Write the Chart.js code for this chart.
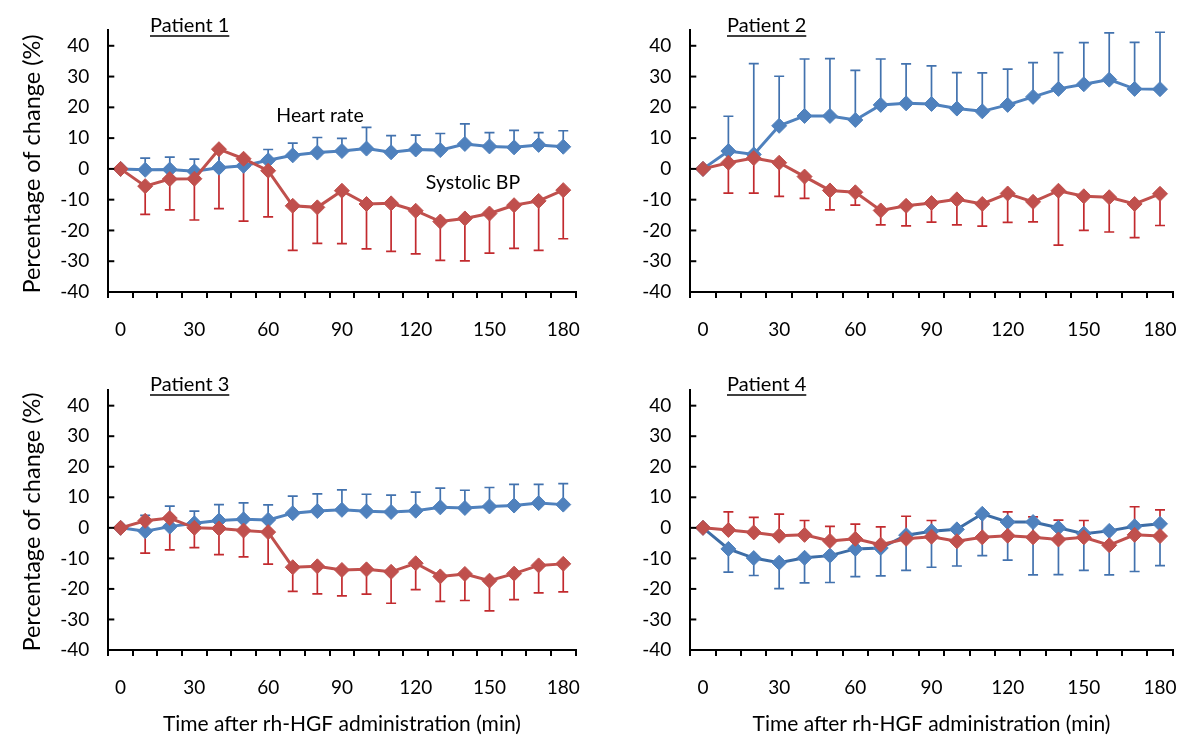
<!DOCTYPE html>
<html><head><meta charset="utf-8">
<script src="https://cdn.jsdelivr.net/npm/chart.js@4.4.1/dist/chart.umd.min.js"></script>
<style>
html,body{margin:0;padding:0;background:#fff;width:1200px;height:752px;overflow:hidden}
canvas{position:absolute}
</style></head><body>
<canvas id="c1" width="600" height="360" style="left:0;top:0"></canvas>
<canvas id="c2" width="600" height="360" style="left:600px;top:0"></canvas>
<canvas id="c3" width="600" height="392" style="left:0;top:360px"></canvas>
<canvas id="c4" width="600" height="392" style="left:600px;top:360px"></canvas>
<script>
// ---- data ----
const times = [0,10,20,30,40,50,60,70,80,90,100,110,120,130,140,150,160,170,180];
const xTickLabels = [0,30,60,90,120,150,180];
const yTickValues = [-40,-30,-20,-10,0,10,20,30,40];
const yTitle = 'Percentage of change (%)';
const xTitle = 'Time after rh-HGF administration (min)';
const hrName = 'Heart rate';
const bpName = 'Systolic BP';

// Patient 1
const hr1    = [0,-0.3,-0.2,-0.8,0.4,1.0,2.8,4.4,5.3,5.8,6.6,5.4,6.3,6.1,8.1,7.3,7.0,7.8,7.2];
const hr1Err = [0,3.5,3.8,3.2,6.0,3.3,6.3,8.4,10.2,9.9,13.5,10.8,11.0,11.5,14.6,11.8,12.5,11.8,12.4];
const bp1    = [0,-5.6,-3.3,-3.2,6.4,3.3,-0.6,-12.0,-12.5,-7.1,-11.4,-11.2,-13.6,-17.1,-16.1,-14.5,-11.8,-10.4,-6.9];
const bp1Err = [0,-14.8,-13.3,-16.6,-12.9,-17.0,-15.6,-26.5,-24.2,-24.3,-26.0,-26.8,-27.6,-29.7,-29.9,-27.4,-25.8,-26.5,-22.7];
// Patient 2
const hr2    = [0,5.8,4.7,14.0,17.2,17.2,15.9,20.8,21.3,21.1,19.6,18.7,20.8,23.4,26.0,27.5,29.0,26.0,25.9];
const hr2Err = [0,17.1,34.2,30.1,35.7,35.8,32.0,35.7,34.1,33.5,31.3,31.2,32.4,34.5,37.8,41.0,44.2,41.1,44.4];
const bp2    = [0,2.0,3.5,2.0,-2.5,-7.0,-7.6,-13.5,-12.0,-11.1,-9.9,-11.4,-8.0,-10.7,-7.1,-8.9,-9.2,-11.4,-8.1];
const bp2Err = [0,-7.9,-7.9,-8.9,-9.6,-13.3,-11.8,-18.2,-18.5,-17.3,-18.2,-18.6,-17.4,-17.2,-24.8,-20.0,-20.5,-22.3,-18.4];
// Patient 3
const hr3    = [0,-1.1,0.4,1.5,2.4,2.8,2.6,4.8,5.5,5.9,5.4,5.2,5.6,6.7,6.5,7.0,7.3,8.1,7.6];
const hr3Err = [0,4.1,7.1,5.5,7.6,8.2,7.5,10.4,11.1,12.4,11.0,10.7,11.7,13.0,12.3,13.2,14.2,14.2,14.5];
const bp3    = [0,2.3,3.2,0.0,-0.2,-0.9,-1.4,-12.9,-12.6,-13.8,-13.6,-14.4,-11.6,-15.9,-15.1,-17.3,-15.0,-12.3,-11.8];
const bp3Err = [0,-8.3,-7.2,-6.5,-8.8,-9.5,-11.9,-20.8,-21.6,-22.3,-21.7,-24.7,-20.2,-24.1,-23.8,-27.2,-23.5,-21.3,-21.0];
// Patient 4
const hr4    = [0,-6.9,-9.9,-11.4,-9.8,-9.1,-6.9,-6.6,-2.4,-1.1,-0.5,4.6,1.9,1.9,0.0,-1.9,-1.0,0.5,1.3];
const hr4Err = [0,-14.5,-15.6,-19.9,-18.0,-17.9,-16.0,-15.7,-13.9,-12.9,-12.5,-9.1,-10.6,-15.4,-15.3,-13.9,-15.4,-14.3,-12.4];
const bp4    = [0,-0.7,-1.5,-2.6,-2.3,-4.3,-3.6,-5.5,-3.6,-2.9,-4.4,-3.1,-2.6,-3.1,-3.8,-3.1,-5.7,-2.3,-2.7];
const bp4Err = [0,5.2,3.4,4.5,2.4,0.5,1.2,0.3,3.8,2.4,-0.5,4.6,5.2,3.6,2.5,2.4,-1.0,6.9,5.9];

const FONT = 'Lato, "Open Sans", sans-serif';
const BLUE = '#4F81BD', RED = '#C0504D';
const BLUE_ERR = '#4272AE', RED_ERR = '#C22A2E';

const errorBarPlugin = {
  id: 'errorBars',
  beforeDatasetsDraw(chart) {
    const ctx = chart.ctx, ys = chart.scales.y;
    chart.data.datasets.forEach((ds, i) => {
      const meta = chart.getDatasetMeta(i);
      ctx.save();
      ctx.strokeStyle = ds.errColor; ctx.lineWidth = 1.7;
      meta.data.forEach((pt, j) => {
        const v = ds.data[j], e = ds.errEnd[j];
        if (e === v) return;
        const y0 = ys.getPixelForValue(v), y1 = ys.getPixelForValue(e);
        ctx.beginPath();
        ctx.moveTo(pt.x, y0); ctx.lineTo(pt.x, y1);
        ctx.moveTo(pt.x - 5, y1); ctx.lineTo(pt.x + 5, y1);
        ctx.stroke();
      });
      ctx.restore();
    });
  }
};

const decorPlugin = {
  id: 'decor',
  afterDraw(chart, args, o) {
    const ctx = chart.ctx, ys = chart.scales.y, a = chart.chartArea;
    ctx.save();
    // inside y ticks
    ctx.strokeStyle = '#000'; ctx.lineWidth = 2;
    yTickValues.forEach(v => {
      const y = ys.getPixelForValue(v);
      ctx.beginPath(); ctx.moveTo(a.left, y); ctx.lineTo(a.left + 6, y); ctx.stroke();
    });
    ctx.fillStyle = '#000';
    // patient label, underlined
    ctx.font = '20px ' + FONT; ctx.textBaseline = 'middle'; ctx.textAlign = 'left';
    ctx.fillText(o.label, o.labelX, o.labelY);
    const w = ctx.measureText(o.label).width;
    ctx.lineWidth = 1.3;
    ctx.beginPath(); ctx.moveTo(o.labelX, o.labelY + 10); ctx.lineTo(o.labelX + w, o.labelY + 10); ctx.stroke();
    // y title
    if (o.yTitle) {
      ctx.save();
      ctx.font = '23.5px ' + FONT; ctx.textAlign = 'center';
      ctx.translate(o.yTitleX, o.yTitleY); ctx.rotate(-Math.PI / 2);
      ctx.fillText(yTitle, 0, 0);
      ctx.restore();
    }
    if (o.xTitle) {
      ctx.font = '21px ' + FONT; ctx.textAlign = 'center';
      ctx.fillText(xTitle, (a.left + a.right) / 2, o.xTitleY);
    }
    if (o.names) {
      ctx.font = '19.5px ' + FONT; ctx.textAlign = 'center';
      ctx.fillText(hrName, o.hrX, o.hrY);
      ctx.fillText(bpName, o.bpX, o.bpY);
    }
    ctx.restore();
  }
};

function makeChart(id, hr, hrErr, bp, bpErr, area, dec, hrLine) {
  const cv = document.getElementById(id);
  return new Chart(cv, {
    type: 'line',
    data: {
      labels: times.map(String),
      datasets: [
        { label: bpName, data: bp, errEnd: bpErr, errColor: RED_ERR, order: 1,
          borderColor: RED, backgroundColor: RED, borderWidth: 3,
          pointStyle: 'rectRot', pointRadius: 7.5, pointBorderWidth: 1,
          pointBackgroundColor: RED, pointBorderColor: RED, tension: 0 },
        { label: hrName, data: hr, errEnd: hrErr, errColor: BLUE_ERR, order: 2,
          borderColor: hrLine, backgroundColor: BLUE, borderWidth: 3,
          pointStyle: 'rectRot', pointRadius: 7.5, pointBorderWidth: 1,
          pointBackgroundColor: BLUE, pointBorderColor: BLUE, tension: 0 }
      ]
    },
    options: {
      responsive: false, animation: false, events: [],
      layout: { padding: { left: 0, top: area.top, right: cv.width - area.right, bottom: 0 } },
      plugins: { legend: { display: false }, tooltip: { enabled: false }, decor: dec },
      scales: {
        x: {
          type: 'category', offset: true,
          afterFit(s) { s.height = cv.height - area.bottom; },
          grid: { offset: true, drawOnChartArea: false, drawTicks: true, tickLength: 6, color: '#000', lineWidth: 2 },
          border: { display: true, color: '#000', width: 2 },
          ticks: { autoSkip: false, maxRotation: 0, padding: 20, color: '#000', font: { family: FONT, size: 19 },
            callback(v, i) { return xTickLabels.includes(times[i]) ? String(times[i]) : ''; } }
        },
        y: {
          min: -40, max: 45,
          afterFit(s) { s.width = area.left; },
          afterBuildTicks(s) { s.ticks = yTickValues.map(v => ({ value: v })); },
          grid: { drawOnChartArea: false, drawTicks: false },
          border: { display: true, color: '#000', width: 2 },
          ticks: { padding: 19, color: '#000', font: { family: FONT, size: 19 } }
        }
      }
    },
    plugins: [errorBarPlugin, decorPlugin]
  });
}

makeChart('c1', hr1, hr1Err, bp1, bp1Err, { left: 108.3, right: 592.7, top: 17.9, bottom: 292 },
  { label: 'Patient 1', labelX: 150, labelY: 26, yTitle: true, yTitleX: 32, yTitleY: 164,
    names: true, hrX: 320, hrY: 116, bpX: 473, bpY: 183 }, BLUE);
makeChart('c2', hr2, hr2Err, bp2, bp2Err, { left: 90.3, right: 572.7, top: 17.9, bottom: 292 },
  { label: 'Patient 2', labelX: 127, labelY: 26 }, BLUE);
makeChart('c3', hr3, hr3Err, bp3, bp3Err, { left: 108.3, right: 592.7, top: 15.9, bottom: 290 },
  { label: 'Patient 3', labelX: 150, labelY: 25, yTitle: true, yTitleX: 32, yTitleY: 162,
    xTitle: true, xTitleY: 364 }, BLUE);
makeChart('c4', hr4, hr4Err, bp4, bp4Err, { left: 90.3, right: 572.7, top: 15.9, bottom: 290 },
  { label: 'Patient 4', labelX: 127, labelY: 25, xTitle: true, xTitleY: 364 }, '#3D6DA6');
</script>
</body></html>
